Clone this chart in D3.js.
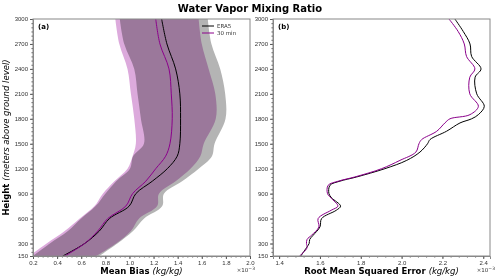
<!DOCTYPE html>
<html>
<head>
<meta charset="utf-8">
<script src="https://cdn.jsdelivr.net/npm/d3@7"></script>
<style>
  body { margin: 0; background: #fff; }
  svg { font-family: "DejaVu Sans", sans-serif; }
  .tick text { fill: #333; font-size: 6px; }
  .domain { stroke: #888; }
  .tick line { stroke: #555; }
</style>
</head>
<body>
<div id="chart"></div>
<script>
// alturas (m) del panel (a)
const heights = [150, 300, 450, 600, 750, 900, 1050, 1200, 1350, 1500, 1800, 2100, 2400, 2700, 3000];
// sesgo medio (x1e-3 kg/kg)
const era5Bias  = [0.447, 0.628, 0.75, 0.834, 0.998, 1.053, 1.19, 1.314, 1.396, 1.418, 1.424, 1.418, 1.383, 1.311, 1.267];
const min30Bias = [0.463, 0.628, 0.737, 0.82, 0.97, 1.026, 1.136, 1.218, 1.30, 1.336, 1.355, 1.347, 1.328, 1.253, 1.218];
// bandas
const era5Lo  = [0.2, 0.34, 0.49, 0.60, 0.72, 0.80, 0.89, 1.004, 1.03, 1.12, 1.095, 1.067, 1.04, 0.957, 0.92];
const era5Hi  = [0.75, 0.90, 1.03, 1.122, 1.272, 1.286, 1.437, 1.574, 1.684, 1.706, 1.797, 1.794, 1.753, 1.68, 1.65];
const min30Lo = [0.17, 0.313, 0.463, 0.587, 0.71, 0.779, 0.875, 0.984, 1.026, 1.053, 1.04, 1.012, 0.984, 0.916, 0.883];
const min30Hi = [0.724, 0.889, 1.012, 1.08, 1.23, 1.245, 1.383, 1.506, 1.588, 1.616, 1.716, 1.712, 1.657, 1.60, 1.574];

// panel (b): RMSE
const rmseHeights = [150, 250, 300, 350, 400, 500, 600, 700, 750, 850, 900, 1000, 1050, 1100, 1200, 1300, 1400, 1500, 1550, 1650, 1750, 1800, 1850, 1950, 2100, 2300, 2400, 2550, 2700, 2850, 3000];
const era5Rmse  = [1.506, 1.534, 1.547, 1.55, 1.567, 1.60, 1.608, 1.68, 1.701, 1.657, 1.644, 1.649, 1.698, 1.779, 1.918, 2.025, 2.09, 2.127, 2.139, 2.22, 2.286, 2.343, 2.376, 2.405, 2.368, 2.36, 2.389, 2.343, 2.335, 2.302, 2.261];
const min30Rmse = [1.50, 1.537, 1.534, 1.537, 1.559, 1.595, 1.591, 1.655, 1.688, 1.653, 1.637, 1.64, 1.69, 1.77, 1.902, 1.992, 2.07, 2.085, 2.098, 2.172, 2.212, 2.237, 2.335, 2.376, 2.334, 2.334, 2.359, 2.318, 2.307, 2.277, 2.232];

const yTicks = [150, 300, 600, 900, 1200, 1500, 1800, 2100, 2400, 2700, 3000];
const xTicksA = [0.2, 0.4, 0.6, 0.8, 1.0, 1.2, 1.4, 1.6, 1.8, 2.0];
const xTicksB = [1.4, 1.6, 1.8, 2.0, 2.2, 2.4];
const seriesNames = ['ERA5', '30 min'];

const purple = '#8b008b';
const yTop = 19, yBottom = 256;

const svg = d3.select('#chart').append('svg')
  .attr('width', 500).attr('height', 280);

const y = d3.scaleLinear().domain([150, 3000]).range([yBottom, yTop]);
const xa = d3.scaleLinear().domain([0.2, 2.0]).range([33, 250]);
const xb = d3.scaleLinear().domain([1.37, 2.433]).range([273, 490]);

// título
svg.append('text')
  .attr('x', 250).attr('y', 12)
  .attr('text-anchor', 'middle')
  .style('font-size', '10px').style('font-weight', 'bold')
  .text('Water Vapor Mixing Ratio');

function drawPanel(x, xTicks, id, labelBold, letter) {
  const g = svg.append('g');

  g.append('clipPath').attr('id', 'clip' + id)
    .append('rect')
    .attr('x', x.range()[0]).attr('y', yTop)
    .attr('width', x.range()[1] - x.range()[0]).attr('height', yBottom - yTop);

  const plot = g.append('g').attr('clip-path', `url(#clip${id})`);

  // ejes
  const start = Math.ceil(x.domain()[0] * 25 - 1e-9) / 25;
  const xMinor = d3.range(start, x.domain()[1] + 1e-9, 0.04)
    .map(v => Math.round(v * 100) / 100);
  g.append('g')
    .attr('transform', `translate(0,${yBottom})`)
    .call(d3.axisBottom(x).tickValues(xMinor).tickSize(1.5).tickFormat(''))
    .call(a => a.select('.domain').remove());
  g.append('g')
    .attr('transform', `translate(0,${yBottom})`)
    .call(d3.axisBottom(x).tickValues(xTicks).tickSize(3).tickPadding(2).tickFormat(d3.format('.1f')));

  g.append('g')
    .attr('transform', `translate(${x.range()[0]},0)`)
    .call(d3.axisLeft(y).tickValues(d3.range(150, 3001, 50)).tickSize(1.5).tickFormat(''))
    .call(a => a.select('.domain').remove());
  g.append('g')
    .attr('transform', `translate(${x.range()[0]},0)`)
    .call(d3.axisLeft(y).tickValues(yTicks).tickSize(3).tickPadding(2).tickFormat(d3.format('d')));

  // marco
  g.append('rect')
    .attr('x', x.range()[0]).attr('y', yTop)
    .attr('width', x.range()[1] - x.range()[0]).attr('height', yBottom - yTop)
    .attr('fill', 'none').attr('stroke', '#888').attr('stroke-width', 1);

  // etiqueta del eje x
  const lab = g.append('text')
    .attr('x', (x.range()[0] + x.range()[1]) / 2).attr('y', 274)
    .attr('text-anchor', 'middle').style('font-size', '8.5px');
  lab.append('tspan').style('font-weight', 'bold').text(labelBold + ' ');
  lab.append('tspan').style('font-style', 'italic').text('(kg/kg)');

  g.append('text')
    .attr('x', x.range()[1] + 5).attr('y', 272)
    .attr('text-anchor', 'end')
    .style('font-size', '5.5px').attr('fill', '#333')
    .text('×10')
    .append('tspan').attr('dy', -2.5).style('font-size', '4.5px').text('−3');

  g.append('text')
    .attr('x', x.range()[0] + 5).attr('y', 29)
    .style('font-size', '7px').style('font-weight', 'bold')
    .text(letter);

  return plot;
}

// panel (a)
const plotA = drawPanel(xa, xTicksA, 'a', 'Mean Bias', '(a)');

const area = (lo, hi) => d3.area()
  .y((d, i) => y(heights[i]))
  .x0((d, i) => xa(lo[i]))
  .x1((d, i) => xa(hi[i]))
  .curve(d3.curveCatmullRom);

const bands = plotA.append('g').style('isolation', 'isolate');
bands.append('path').datum(heights)
  .attr('d', area(era5Lo, era5Hi))
  .attr('fill', '#b4b4b4').style('mix-blend-mode', 'multiply');
bands.append('path').datum(heights)
  .attr('d', area(min30Lo, min30Hi))
  .attr('fill', '#dcaadc').style('mix-blend-mode', 'multiply');

const lineA = vals => d3.line()
  .y((d, i) => y(heights[i]))
  .x((d, i) => xa(vals[i]))
  .curve(d3.curveCatmullRom);

plotA.append('path').datum(heights).attr('d', lineA(era5Bias))
  .attr('fill', 'none').attr('stroke', '#000').attr('stroke-width', 1);
plotA.append('path').datum(heights).attr('d', lineA(min30Bias))
  .attr('fill', 'none').attr('stroke', purple).attr('stroke-width', 1);

// leyenda
const legend = svg.append('g');
['#000', purple].forEach((c, i) => {
  legend.append('line')
    .attr('x1', 202).attr('x2', 214)
    .attr('y1', 26 + i * 7).attr('y2', 26 + i * 7)
    .attr('stroke', c).attr('stroke-width', 1);
  legend.append('text')
    .attr('x', 217).attr('y', 28 + i * 7)
    .style('font-size', '5.5px').attr('fill', '#333')
    .text(seriesNames[i]);
});

// panel (b)
const plotB = drawPanel(xb, xTicksB, 'b', 'Root Mean Squared Error', '(b)');

const lineB = vals => d3.line()
  .y((d, i) => y(rmseHeights[i]))
  .x((d, i) => xb(vals[i]))
  .curve(d3.curveCatmullRom);

plotB.append('path').datum(rmseHeights).attr('d', lineB(era5Rmse))
  .attr('fill', 'none').attr('stroke', '#000').attr('stroke-width', 1);
plotB.append('path').datum(rmseHeights).attr('d', lineB(min30Rmse))
  .attr('fill', 'none').attr('stroke', purple).attr('stroke-width', 1);

// etiqueta del eje y
const yl = svg.append('text')
  .attr('transform', `translate(9,${(yTop + yBottom) / 2}) rotate(-90)`)
  .attr('text-anchor', 'middle').style('font-size', '8.5px');
yl.append('tspan').style('font-weight', 'bold').text('Height ');
yl.append('tspan').style('font-style', 'italic').text('(meters above ground level)');
</script>
</body>
</html>
